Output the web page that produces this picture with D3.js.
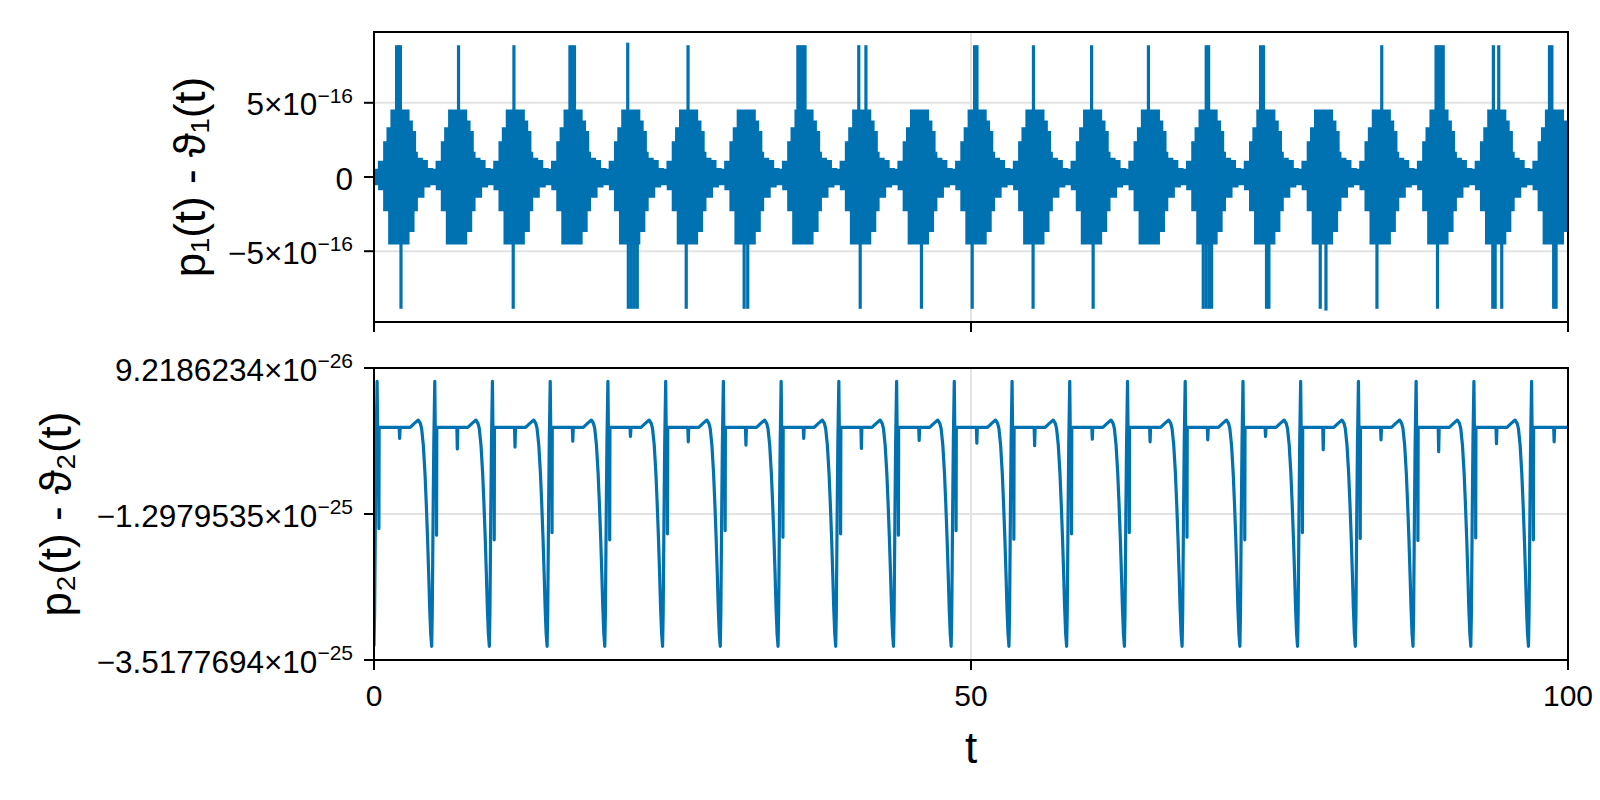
<!DOCTYPE html>
<html><head><meta charset="utf-8">
<script src="https://cdn.jsdelivr.net/npm/d3@7/dist/d3.min.js"></script>
<style>body{margin:0;background:#fff} text{font-family:"Liberation Sans","Helvetica",Arial,sans-serif;fill:#000}</style>
</head><body><svg id="c" width="1600" height="800"></svg>
<script>
// ---------------- data ----------------
const xDomain = [0, 100];
const xTicks = [0, 50, 100];
const xTickLabels = ["0", "50", "100"];
const xLabel = "t";

const topYLabel = "p\u2081(t) - \u03D1\u2081(t)";
const topYLimits = [-9.77e-16, 9.77e-16];
const topYTicks = [-5e-16, 0, 5e-16];
const topYTickMantissa = ["\u22125", "0", "5"];
const topYTickExponent = ["\u221216", null, "\u221216"];

const bottomYLabel = "p\u2082(t) - \u03D1\u2082(t)";
const bottomYTicks = [-3.5177694e-25, -1.2979535e-25, 9.2186234e-26];
const bottomYTickMantissa = ["\u22123.5177694", "\u22121.2979535", "9.2186234"];
const bottomYTickExponent = ["\u221225", "\u221225", "\u221226"];

// times of the deep minima of the lower series (start of each cycle)
const cycleStarts = [0, 4.83, 9.66, 14.5, 19.33, 24.17, 29.0, 33.84, 38.67, 43.51, 48.34,
  53.18, 58.01, 62.85, 67.68, 72.52, 77.35, 82.19, 87.02, 91.86, 96.69];

// upper series: envelope of the fast oscillation inside one cycle (phase in t, value in 1e-16)
const burstUpperPhase = [0, 0.45, 0.89, 1.17, 1.5, 2.85, 3.13, 3.4, 3.55, 3.97, 4.39];
const burstUpperValue = [0.45, 1.0, 2.3, 3.25, 4.44, 3.7, 3.0, 1.6, 1.2, 1.05, 0.5];
const burstLowerPhase = [0, 0.47, 0.89, 1.31, 2.85, 3.27, 3.55, 4.1, 4.6];
const burstLowerValue = [-0.45, -0.8, -2.2, -4.44, -3.6, -2.2, -1.3, -0.6, -0.45];

// upper series: isolated spikes (time, value in 1e-16)
const upSpikeT = [1.89, 2.05, 2.21, 7.08, 11.72, 16.41, 16.6, 16.79, 21.25, 26.3,
  35.5, 35.7, 35.9, 36.1, 40.6, 41.2, 50.3, 50.5, 55.23, 60.1, 64.86, 69.7, 69.9,
  74.25, 74.5, 84.4, 88.95, 89.15, 89.35, 89.55, 93.75, 94.2, 98.45, 98.65];
const upSpikeV = [8.88, 8.88, 8.88, 8.88, 8.88, 8.88, 8.88, 8.88, 9.05, 8.88,
  8.88, 8.88, 8.88, 8.88, 8.88, 8.88, 8.88, 8.88, 8.88, 8.88, 8.88, 8.88, 8.88,
  8.88, 8.88, 8.88, 8.88, 8.88, 8.88, 8.88, 8.88, 8.88, 8.88, 8.88];
const downSpikeT = [2.26, 11.66, 21.3, 21.55, 21.8, 22.05, 26.15, 31.0, 31.3, 40.72,
  45.85, 50.1, 55.2, 60.23, 69.45, 69.7, 69.95, 70.15, 74.75, 74.95, 79.25, 79.73,
  84.0, 89.07, 93.7, 93.9, 94.45, 98.8, 99.0];
const downSpikeV = [-8.88, -8.88, -8.88, -8.88, -8.88, -8.88, -8.88, -8.88, -8.88, -8.88,
  -8.88, -8.88, -8.88, -8.88, -8.88, -8.88, -8.88, -8.88, -8.88, -8.88, -8.88, -9.0,
  -8.88, -8.88, -8.88, -8.88, -8.88, -8.88, -8.88];

// lower series (value in 1e-25): shape of the fall into each minimum (time relative to minimum)
const dropT = [-1.8, -1.45, -1.12, -0.95, -0.84, -0.7, -0.56, -0.45, -0.34, -0.25, -0.17, -0.08, 0];
const dropV = [0.02, 0.08, 0.13, 0.08, 0.0, -0.25, -0.68, -1.15, -1.69, -2.2, -2.71, -3.12, -3.31];
// climb out of the minimum, spike up, then short spike down (null = per-cycle depth)
const riseT = [0.05, 0.12, 0.18, 0.26, 0.3, 0.39, 0.41, 0.43];
const riseV = [-2.8, -1.3, -0.2, 0.72, 0.02, 0.02, null, 0.02];
const midSpikeDepth = [-1.52, -1.62, -1.69, -1.58, -1.69, -1.6, -1.55, -1.65, -1.6, -1.62, -1.55,
  -1.68, -1.6, -1.58, -1.65, -1.69, -1.58, -1.67, -1.70, -1.66, -1.69];
const plateauLevel = 0.02;
const plateauTickPhase = 2.15;
const plateauTickDepth = [-0.15, -0.31, -0.28, -0.19, -0.12, -0.2, -0.25, -0.15, -0.3, -0.18, -0.22,
  -0.26, -0.16, -0.2, -0.17, -0.12, -0.32, -0.17, -0.35, -0.23, -0.20];

// ---------------- drawing ----------------
const L = 374, R = 1568;
const topP = {t: 32, b: 322};
const botP = {t: 368, b: 660};
const blue = "#0072b2";
const gridCol = "#e3e3e3";

const svg = d3.select("#c");
const x = d3.scaleLinear().domain(xDomain).range([L, R]);
const yTop = d3.scaleLinear().domain(topYLimits).range([topP.b, topP.t]);
const yBot = d3.scaleLinear().domain([bottomYTicks[0], bottomYTicks[2]]).range([botP.b, botP.t]);

const defs = svg.append("defs");
[["clipTop", topP], ["clipBot", botP]].forEach(([id, p]) => {
  defs.append("clipPath").attr("id", id).append("rect")
    .attr("x", L).attr("y", p.t).attr("width", R - L).attr("height", p.b - p.t);
});

function grid(g, y, yt, p) {
  g.selectAll(".gx").data(xTicks).join("line")
    .attr("x1", d => x(d)).attr("x2", d => x(d)).attr("y1", p.t).attr("y2", p.b)
    .attr("stroke", gridCol).attr("stroke-width", 2);
  g.selectAll(".gy").data(yt).join("line")
    .attr("x1", L).attr("x2", R).attr("y1", d => y(d)).attr("y2", d => y(d))
    .attr("stroke", gridCol).attr("stroke-width", 2);
}
const gTop = svg.append("g");
const gBot = svg.append("g");
grid(gTop.append("g"), yTop, topYTicks, topP);
grid(gBot.append("g"), yBot, bottomYTicks, botP);

// ---- upper series ----
const upPts = [], loPts = [];
cycleStarts.forEach((c, k) => {
  const end = k + 1 < cycleStarts.length ? cycleStarts[k + 1] : xDomain[1];
  burstUpperPhase.forEach((ph, i) => { if (c + ph < end) upPts.push({t: c + ph, v: burstUpperValue[i] * 1e-16}); });
  burstLowerPhase.forEach((ph, i) => { if (c + ph < end) loPts.push({t: c + ph, v: burstLowerValue[i] * 1e-16}); });
});
upPts.push({t: xDomain[1], v: upPts[upPts.length - 1].v});
loPts.push({t: xDomain[1], v: loPts[loPts.length - 1].v});

const dTop = gTop.append("g").attr("clip-path", "url(#clipTop)");
const areaUp = d3.area().x(d => x(d.t)).y0(yTop(0)).y1(d => yTop(d.v)).curve(d3.curveStepAfter);
const areaLo = d3.area().x(d => x(d.t)).y0(d => yTop(d.v)).y1(yTop(0)).curve(d3.curveStepAfter);
dTop.append("path").attr("d", areaUp(upPts)).attr("fill", blue).attr("stroke", blue).attr("stroke-width", 3);
dTop.append("path").attr("d", areaLo(loPts)).attr("fill", blue).attr("stroke", blue).attr("stroke-width", 3);

const seg = d3.line().x(d => x(d[0])).y(d => yTop(d[1]));
const spikes = upSpikeT.map((t, i) => [[t, 0], [t, upSpikeV[i] * 1e-16]])
  .concat(downSpikeT.map((t, i) => [[t, 0], [t, downSpikeV[i] * 1e-16]]));
dTop.selectAll(".sp").data(spikes).join("path")
  .attr("d", d => seg(d)).attr("stroke", blue).attr("stroke-width", 3.2).attr("fill", "none");

// ---- lower series ----
const bPts = [];
cycleStarts.forEach((c, k) => {
  if (k > 0) dropT.forEach((dt, i) => bPts.push([c + dt, dropV[i]]));
  else bPts.push([c, dropV[dropV.length - 1]]);
  riseT.forEach((dt, i) => bPts.push([c + dt, riseV[i] === null ? midSpikeDepth[k] : riseV[i]]));
  const tk = c + plateauTickPhase;
  bPts.push([tk - 0.04, plateauLevel], [tk, plateauTickDepth[k]], [tk + 0.04, plateauLevel]);
});
bPts.push([xDomain[1], plateauLevel]);
const lineBot = d3.line().x(d => x(d[0])).y(d => yBot(d[1] * 1e-25));
gBot.append("g").attr("clip-path", "url(#clipBot)").append("path")
  .attr("d", lineBot(bPts)).attr("fill", "none").attr("stroke", blue)
  .attr("stroke-width", 3.2).attr("stroke-linejoin", "round");

// ---- frames, ticks, labels ----
const FS = 31.5, SUP = 21, XFS = 30, LAB = 44;
function frame(g, p) {
  g.append("rect").attr("x", L).attr("y", p.t).attr("width", R - L).attr("height", p.b - p.t)
    .attr("fill", "none").attr("stroke", "#000").attr("stroke-width", 2);
  g.selectAll(".xt").data(xTicks).join("line")
    .attr("x1", d => x(d)).attr("x2", d => x(d)).attr("y1", p.b).attr("y2", p.b + 10)
    .attr("stroke", "#000").attr("stroke-width", 2);
}
function yTicksDraw(g, y, ticks, mant, expo) {
  g.selectAll(".yt").data(ticks).join("line")
    .attr("x1", L - 10).attr("x2", L).attr("y1", d => y(d)).attr("y2", d => y(d))
    .attr("stroke", "#000").attr("stroke-width", 2);
  ticks.forEach((d, i) => {
    const t = g.append("text").attr("x", 353).attr("y", y(d) + 12.5)
      .attr("text-anchor", "end").attr("font-size", FS);
    if (expo[i]) {
      t.append("tspan").text(mant[i] + "\u00D710");
      t.append("tspan").attr("font-size", SUP).attr("dy", -12.5).text(expo[i]);
    } else {
      t.text(mant[i]);
    }
  });
}
frame(gTop, topP);
frame(gBot, botP);
yTicksDraw(gTop, yTop, topYTicks, topYTickMantissa, topYTickExponent);
yTicksDraw(gBot, yBot, bottomYTicks, bottomYTickMantissa, bottomYTickExponent);

gBot.selectAll(".xl").data(xTicks).join("text")
  .attr("x", d => x(d)).attr("y", 706).attr("text-anchor", "middle")
  .attr("font-size", XFS).text((d, i) => xTickLabels[i]);

svg.append("text").attr("x", x(50)).attr("y", 763).attr("text-anchor", "middle")
  .attr("font-size", LAB).text(xLabel);

svg.append("text").attr("transform", `translate(${189},${(topP.t + topP.b) / 2}) rotate(-90)`)
  .attr("text-anchor", "middle").attr("dominant-baseline", "central")
  .attr("font-size", LAB).text(topYLabel);
svg.append("text").attr("transform", `translate(${55},${(botP.t + botP.b) / 2}) rotate(-90)`)
  .attr("text-anchor", "middle").attr("dominant-baseline", "central")
  .attr("font-size", LAB).text(bottomYLabel);
</script></body></html>
